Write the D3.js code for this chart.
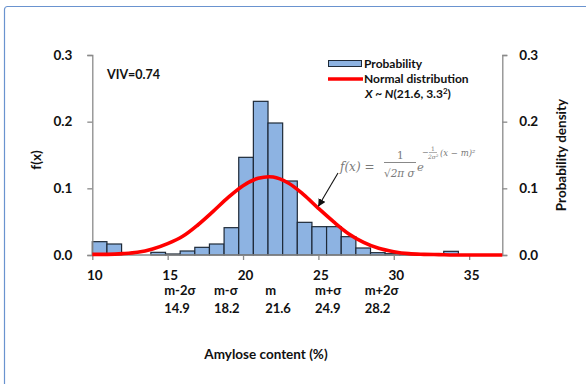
<!DOCTYPE html>
<html>
<head>
<meta charset="utf-8">
<script src="https://cdn.jsdelivr.net/npm/d3@7"></script>
<style>
  body { margin: 0; background: #fff; }
  text { font-family: Lato, "Open Sans", sans-serif; font-weight: bold; fill: #111; }
</style>
</head>
<body>
<div id="chart"></div>
<script>
// histogram bins (28 bins of equal width across the plot)
var binProb = [0.020, 0.0165, 0, 0, 0.004, 0.0015, 0.006, 0.0115, 0.0165, 0.041,
               0.1465, 0.2305, 0.198, 0.111, 0.049, 0.0425, 0.0425, 0.0275, 0.0105, 0.0035,
               0.002, 0.001, 0.001, 0, 0.0055, 0, 0, 0];

// normal curve
var curveX = [10, 11, 12, 13, 14, 15, 16, 17, 18, 19, 20, 21, 22, 23, 24, 25, 26, 27, 28, 29, 30, 31, 32, 33, 34, 35, 36, 37, 37.2];
var curveY = [0.001, 0.001, 0.002, 0.004, 0.009, 0.017, 0.028, 0.045, 0.065, 0.086, 0.104, 0.115, 0.117, 0.108, 0.091, 0.070, 0.050, 0.032, 0.019, 0.010, 0.005, 0.002, 0.001, 0.0005, 0, 0, 0, 0, 0];

var xTicks = [10, 15, 20, 25, 30, 35];
var yTicks = [0, 0.1, 0.2, 0.3];
var sigmaNames = ["m-2σ", "m-σ", "m", "m+σ", "m+2σ"];
var sigmaVals = [14.9, 18.2, 21.6, 24.9, 28.2];

var W = 586, H = 384;
var plotL = 92.3, plotR = 502.3, plotT = 55, plotB = 255;

var svg = d3.select("#chart").append("svg")
    .attr("width", W)
    .attr("height", H);

// outer frame (only top and left visible)
svg.append("rect")
    .attr("x", 4.5).attr("y", 6.5)
    .attr("width", W + 20).attr("height", H + 20)
    .attr("rx", 3)
    .style("fill", "none")
    .style("stroke", "#6a93cf")
    .style("stroke-width", 1.2);

var x = d3.scaleLinear().domain([10, 37.2]).range([plotL, plotR]);
var xb = d3.scaleBand().domain(d3.range(binProb.length)).range([plotL, plotR]).paddingInner(0);
var y = d3.scaleLinear().domain([0, 0.3]).range([plotB, plotT]);

// bars
svg.selectAll("rect.bar")
    .data(binProb)
    .enter()
    .append("rect")
    .attr("class", "bar")
    .attr("x", function(d, i) { return xb(i); })
    .attr("width", xb.bandwidth())
    .attr("y", function(d) { return y(d); })
    .attr("height", function(d) { return plotB - y(d); })
    .style("fill", "#8db3e2")
    .style("stroke", function(d) { return d > 0 ? "#1e2a38" : "none"; })
    .style("stroke-width", 1.2);

// axes
var axisColor = "#8a8a8a";
var gL = svg.append("g").attr("transform", "translate(" + plotL + ",0)")
    .call(d3.axisLeft(y).tickValues(yTicks).tickSize(5).tickFormat(d3.format(".1f")));
var gR = svg.append("g").attr("transform", "translate(" + plotR + ",0)")
    .call(d3.axisRight(y).tickValues(yTicks).tickSize(5).tickFormat(d3.format(".1f")));
var gB = svg.append("g").attr("transform", "translate(0," + plotB + ")")
    .call(d3.axisBottom(x).tickValues(xTicks).tickSize(5).tickSizeOuter(0));

[gL, gR, gB].forEach(function(g) {
    g.select(".domain").style("stroke", axisColor).style("stroke-width", 1.3);
    g.selectAll(".tick line").style("stroke", axisColor).style("stroke-width", 1.3);
    g.selectAll(".tick text").style("font-size", "13.5px").style("font-family", "Lato, sans-serif").style("font-weight", "bold").style("fill", "#111");
});
gL.selectAll(".tick text").attr("x", -20);
gR.selectAll(".tick text").attr("x", 17);
gB.selectAll(".tick text").attr("y", 15).attr("dx", 2);
gB.select(".domain").attr("d", "M" + plotL + ",0H" + plotR);

// normal curve
var line = d3.line()
    .x(function(d, i) { return x(curveX[i]); })
    .y(function(d) { return y(d); })
    .curve(d3.curveCatmullRom);
svg.append("path")
    .datum(curveY)
    .attr("d", line)
    .style("fill", "none")
    .style("stroke", "#ff0000")
    .style("stroke-width", 3.6);

// sigma labels
svg.selectAll("text.sname")
    .data(sigmaNames)
    .enter()
    .append("text")
    .attr("class", "sname")
    .attr("x", function(d, i) { return x(sigmaVals[i]) - 2; })
    .attr("y", 295)
    .style("font-size", "13px")
    .text(function(d) { return d; });
svg.selectAll("text.sval")
    .data(sigmaVals)
    .enter()
    .append("text")
    .attr("class", "sval")
    .attr("x", function(d) { return x(d) - 2; })
    .attr("y", 313)
    .style("font-size", "13px")
    .text(function(d) { return d.toFixed(1); });

// axis titles
svg.append("text")
    .attr("x", 266).attr("y", 359)
    .attr("text-anchor", "middle")
    .style("font-size", "13.5px")
    .text("Amylose content (%)");

svg.append("text")
    .attr("transform", "translate(41,160) rotate(-90)")
    .attr("text-anchor", "middle")
    .style("font-size", "13.5px")
    .text("f(x)");

svg.append("text")
    .attr("transform", "translate(566,155) rotate(-90)")
    .attr("text-anchor", "middle")
    .style("font-size", "13.5px")
    .text("Probability density");

svg.append("text")
    .attr("x", 107).attr("y", 79)
    .style("font-size", "12.5px")
    .text("VIV=0.74");

// legend
svg.append("rect")
    .attr("x", 328.5).attr("y", 60.5)
    .attr("width", 33).attr("height", 6)
    .style("fill", "#8db3e2")
    .style("stroke", "#1e2a38")
    .style("stroke-width", 1);
svg.append("text")
    .attr("x", 364).attr("y", 68)
    .style("font-size", "12px")
    .text("Probability");
svg.append("line")
    .attr("x1", 328).attr("x2", 363)
    .attr("y1", 79).attr("y2", 79)
    .style("stroke", "#ff0000")
    .style("stroke-width", 3.6);
svg.append("text")
    .attr("x", 364).attr("y", 83)
    .style("font-size", "12px")
    .text("Normal distribution");
var lt = svg.append("text")
    .attr("x", 365).attr("y", 98)
    .style("font-size", "12px")
    .style("font-style", "italic");
lt.append("tspan").text("X ~ N");
lt.append("tspan").style("font-style", "normal").text("(21.6, 3.3");
lt.append("tspan").style("font-style", "normal").style("font-size", "8px").attr("dy", -4).text("2");
lt.append("tspan").style("font-style", "normal").attr("dy", 4).text(")");

// formula annotation
var fcol = "#7a7a7a";
var ff = "'DejaVu Serif', 'Liberation Serif', serif";
function ftext(tx, ty, s, size, italic) {
    return svg.append("text")
        .attr("x", tx).attr("y", ty)
        .style("font-family", ff)
        .style("font-weight", "normal")
        .style("font-style", italic ? "italic" : "normal")
        .style("font-size", size + "px")
        .style("fill", fcol)
        .text(s);
}
ftext(340, 171, "f(x) =", 12, true);
ftext(397, 159, "1", 10.5, false);
svg.append("line").attr("x1", 384).attr("x2", 416).attr("y1", 162.5).attr("y2", 162.5)
    .style("stroke", fcol).style("stroke-width", 0.9);
ftext(384, 177, "√2π σ", 10.5, true);
ftext(417, 171, "e", 11.5, true);
ftext(422, 155, "−", 8, false);
ftext(431, 151, "1", 6, false);
svg.append("line").attr("x1", 429).attr("x2", 437).attr("y1", 152.5).attr("y2", 152.5)
    .style("stroke", fcol).style("stroke-width", 0.6);
ftext(428, 158.5, "2σ²", 6, true);
ftext(440, 156, "(x − m)²", 8.5, true);

// arrow
svg.append("defs").append("marker")
    .attr("id", "ah")
    .attr("viewBox", "0 0 10 10")
    .attr("refX", 9).attr("refY", 5)
    .attr("markerWidth", 7).attr("markerHeight", 7)
    .attr("orient", "auto")
    .append("path")
    .attr("d", "M0,0L10,5L0,10z")
    .style("fill", "#111");
svg.append("line")
    .attr("x1", 338).attr("y1", 173)
    .attr("x2", 318.5).attr("y2", 206)
    .attr("marker-end", "url(#ah)")
    .style("stroke", "#111")
    .style("stroke-width", 1.1);
</script>
</body>
</html>
